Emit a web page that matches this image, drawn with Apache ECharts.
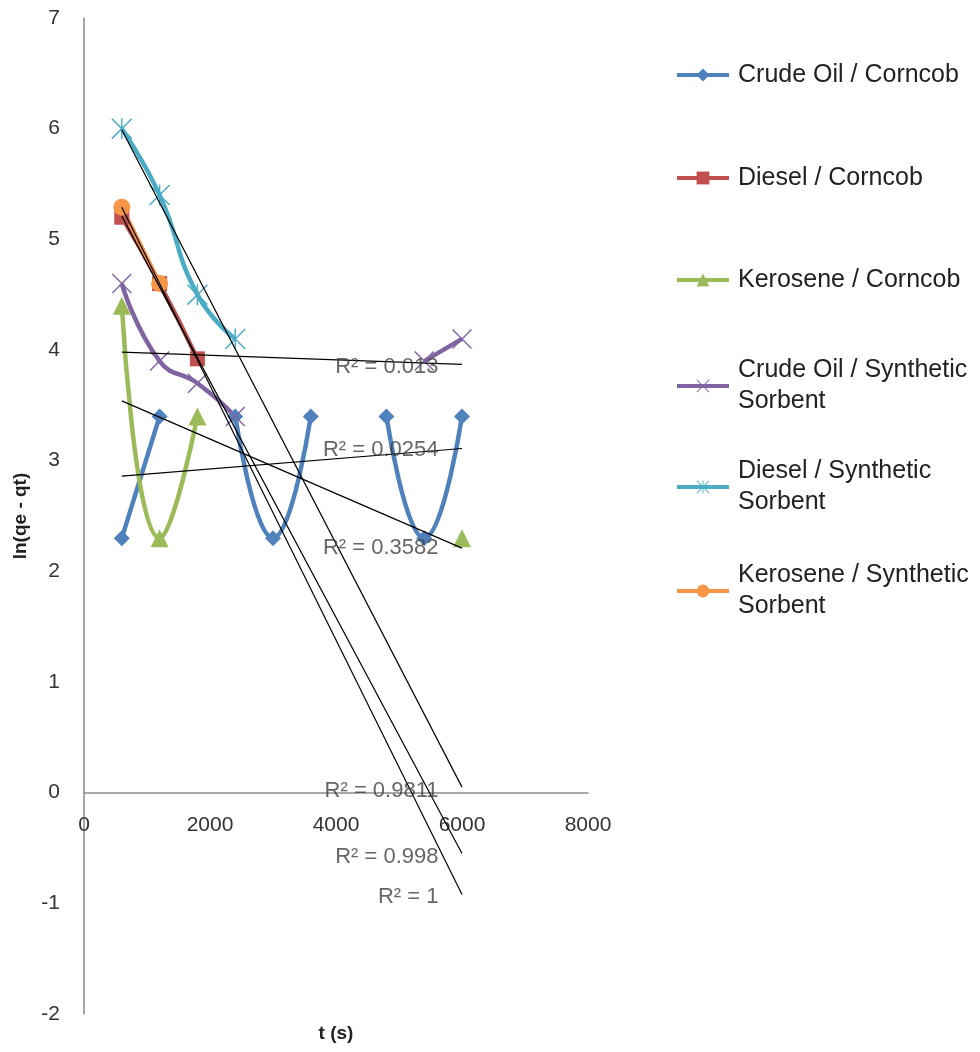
<!DOCTYPE html>
<html><head><meta charset="utf-8">
<script src="https://cdn.jsdelivr.net/npm/echarts@6/dist/echarts.min.js"></script>
<style>html,body{margin:0;padding:0;background:#fff}#chart{width:980px;height:1052px}</style>
</head><body><div id="chart"></div>
<script>
// ---- data ----
const times = [600, 1200, 1800, 2400, 3000, 3600, 4200, 4800, 5400, 6000];
const seriesNames = [
  'Crude Oil / Corncob', 'Diesel / Corncob', 'Kerosene / Corncob',
  'Crude Oil / Synthetic Sorbent', 'Diesel / Synthetic Sorbent', 'Kerosene / Synthetic Sorbent'
];
const crudeOilCorncob      = [2.3, 3.4, null, 3.4, 2.3, 3.4, null, 3.4, 2.3, 3.4];
const dieselCorncob        = [5.2, 4.6, 3.92, null, null, null, null, null, null, null];
const keroseneCorncob      = [4.4, 2.3, 3.4, null, null, null, null, null, null, 2.3];
const crudeOilSynthetic    = [4.6, 3.9, 3.7, 3.4, null, null, null, null, 3.9, 4.1];
const dieselSynthetic      = [6.0, 5.4, 4.5, 4.1, null, null, null, null, null, null];
const keroseneSynthetic    = [5.29, 4.6, null, null, null, null, null, null, null, null];
// linear trendlines (start at t=600, end at t=6000)
const trendT = [600, 6000];
const trendCrudeOilCorncob   = [2.86, 3.11];
const trendDieselCorncob     = [5.21, -0.55];
const trendKeroseneCorncob   = [3.54, 2.21];
const trendCrudeOilSynthetic = [3.98, 3.87];
const trendDieselSynthetic   = [5.99, 0.05];
const trendKeroseneSynthetic = [5.29, -0.92];
const r2Texts = ['R² = 0.0254', 'R² = 0.998', 'R² = 0.3582', 'R² = 0.013', 'R² = 0.9811', 'R² = 1'];
const xTicks = [0, 2000, 4000, 6000, 8000];
const yTicks = [-2, -1, 0, 1, 2, 3, 4, 5, 6, 7];

// ---- styling ----
const FONT = 'Liberation Sans, Arial, sans-serif';
const colors = ['#4F81BD', '#C0504D', '#9BBB59', '#8064A2', '#4BACC6', '#F79646'];
const xPath = 'path://M0,1 L1,0 L20,19 L19,20 Z M19,0 L20,1 L1,20 L0,19 Z';
const starPath = 'path://M0,1 L1,0 L20,19 L19,20 Z M19,0 L20,1 L1,20 L0,19 Z M9.3,0 L10.7,0 L10.7,20 L9.3,20 Z';
const symbols = ['diamond', 'rect', 'triangle', xPath, starPath, 'circle'];
const symbolSizes = [16, 15, 18, 20, 21, 17];
const values = [crudeOilCorncob, dieselCorncob, keroseneCorncob, crudeOilSynthetic, dieselSynthetic, keroseneSynthetic];
const trends = [trendCrudeOilCorncob, trendDieselCorncob, trendKeroseneCorncob, trendCrudeOilSynthetic, trendDieselSynthetic, trendKeroseneSynthetic];

const mainSeries = seriesNames.map((name, i) => ({
  name, type: 'line', smooth: true, showAllSymbol: true,
  symbol: symbols[i], symbolSize: symbolSizes[i],
  data: times.map((t, k) => [t, values[i][k]]),
  lineStyle: {color: colors[i], width: 4.5},
  itemStyle: {color: colors[i]},
  emphasis: {disabled: true},
  z: 2
}));

const trendSeries = trends.map((tr, i) => ({
  name: 'trend' + i, type: 'line', symbol: 'none', silent: true,
  data: trendT.map((t, k) => [t, tr[k]]),
  lineStyle: {color: '#000', width: 1.2},
  itemStyle: {color: '#000'},
  z: 3
}));

// label anchors (right end of each R² text), in data units
const r2Anchors = [[5635, 3.10], [5635, -0.58], [5635, 2.21], [5635, 3.85], [5635, 0.02], [5635, -0.94]];
const labelSeries = {
  name: 'r2', type: 'scatter', symbolSize: 1, silent: true,
  itemStyle: {color: 'rgba(0,0,0,0)'},
  data: r2Anchors.map((p, i) => ({value: p, name: r2Texts[i]})),
  label: {show: true, position: 'left', distance: 0, formatter: p => p.name,
          color: '#404040', fontFamily: FONT, fontSize: 22},
  z: 4
};

const legendCenters = [75, 178, 280, 386, 487, 591];
const legends = seriesNames.map((name, i) => {
  const two = name.indexOf('Sorbent') >= 0;
  return {
    data: [name], orient: 'vertical', left: 675,
    top: two ? legendCenters[i] - 46.5 : legendCenters[i] - 15.5,
    padding: 0, itemWidth: 52, itemHeight: 16, selectedMode: false,
    lineStyle: {width: 4},
    formatter: n => n.replace(' Sorbent', '\nSorbent'),
    textStyle: {fontFamily: FONT, fontSize: 25, color: '#222', lineHeight: 31,
                padding: two ? [31, 0, 0, 4] : [0, 0, 0, 4]}
  };
});

const GRID_TOP = 18, GRID_BOTTOM = 38, H = 1052;
const plotH = H - GRID_TOP - GRID_BOTTOM;
const yMin = yTicks[0], yMax = yTicks[yTicks.length - 1];
// move the x axis (line, labels, name) up to the y = 0 level
const xAxisOffset = -plotH * (0 - yMin) / (yMax - yMin);

const chart = echarts.init(document.getElementById('chart'), null, {renderer: 'canvas'});
chart.setOption({
  backgroundColor: '#fff',
  animation: false,
  legend: legends,
  grid: {left: 84, right: 392, top: GRID_TOP, bottom: GRID_BOTTOM, containLabel: false, outerBoundsMode: 'none'},
  xAxis: {
    type: 'value', min: xTicks[0], max: xTicks[xTicks.length - 1], interval: xTicks[1] - xTicks[0],
    position: 'bottom', offset: xAxisOffset,
    name: 't (s)', nameLocation: 'middle', nameGap: 232,
    nameTextStyle: {fontFamily: FONT, fontSize: 19, fontWeight: 'bold', color: '#222'},
    axisLine: {onZero: false, lineStyle: {color: '#8a8a8a', width: 1.5}},
    axisTick: {show: false},
    splitLine: {show: false},
    axisLabel: {fontFamily: FONT, fontSize: 21, color: '#333', margin: 22, formatter: v => String(v)}
  },
  yAxis: {
    type: 'value', min: yMin, max: yMax, interval: 1,
    name: 'ln(qe - qt)', nameLocation: 'middle', nameGap: 54, nameRotate: 90,
    nameTextStyle: {fontFamily: FONT, fontSize: 19, fontWeight: 'bold', color: '#222'},
    axisLine: {show: true, onZero: false, lineStyle: {color: '#8a8a8a', width: 1.5}},
    axisTick: {show: false},
    splitLine: {show: false},
    axisLabel: {fontFamily: FONT, fontSize: 21, color: '#333', margin: 24, formatter: v => String(v)}
  },
  series: [...mainSeries, ...trendSeries, labelSeries]
});
</script></body></html>
